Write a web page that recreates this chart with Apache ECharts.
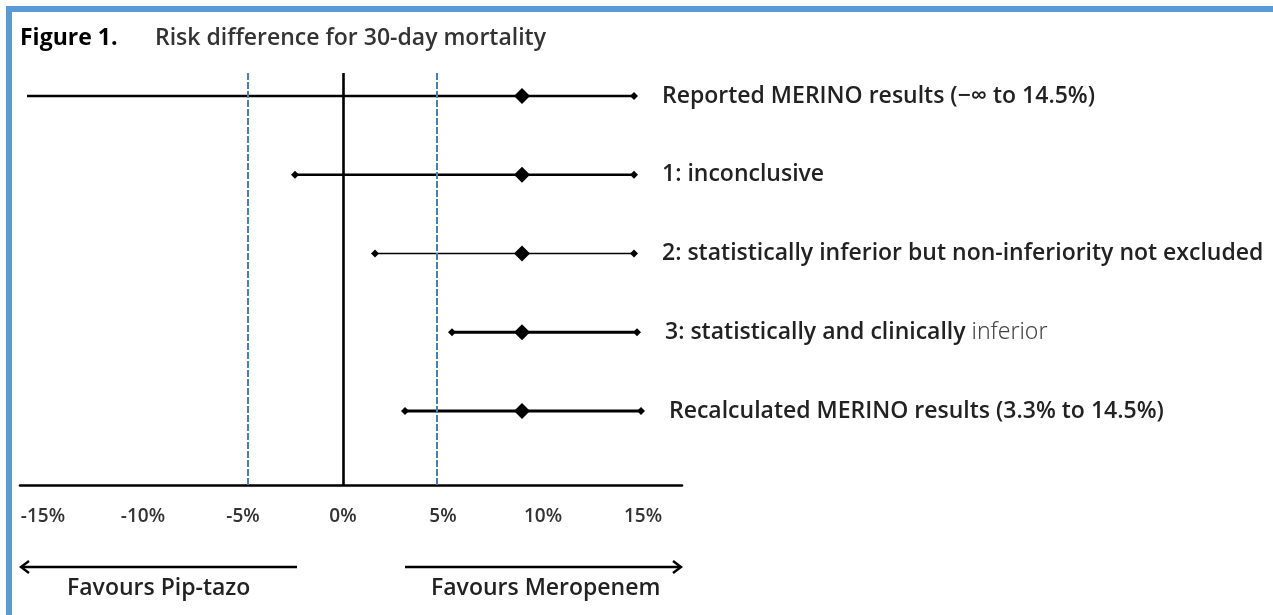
<!DOCTYPE html>
<html>
<head>
<meta charset="utf-8">
<script src="https://cdn.jsdelivr.net/npm/echarts@6/dist/echarts.min.js"></script>
<style>
html,body{margin:0;padding:0;background:#fff;}
#chart{width:1273px;height:615px;}
</style>
</head>
<body>
<div id="chart"></div>
<script>
// ---- data ----
const rowLabels = [
  'Reported MERINO results (\u2212\u221e to 14.5%)',
  '1: inconclusive',
  '2: statistically inferior but non-inferiority not excluded',
  '3: statistically and clinically inferior',
  'Recalculated MERINO results (3.3% to 14.5%)'
];
const lowerCI = [-15.8, -2.4, 1.6, 5.45, 3.1];
const pointEst = [8.95, 8.95, 8.95, 8.95, 8.95];
const upperCI = [14.55, 14.55, 14.55, 14.7, 14.9];
const tickValues = [-15, -10, -5, 0, 5, 10, 15];
const tickLabels = ['-15%', '-10%', '-5%', '0%', '5%', '10%', '15%'];
const marginLines = [-4.75, 4.7];
const titleMain = 'Figure 1.';
const titleSub = 'Risk difference for 30-day mortality';
const favourLeft = 'Favours Pip-tazo';
const favourRight = 'Favours Meropenem';

// ---- styling ----
const FONT = '"Open Sans", Lato, sans-serif';
const lineWidths = [2.6, 2.6, 1.3, 3, 3];
const TXT = '#222';
const FS = 23;

const chart = echarts.init(document.getElementById('chart'), null, {renderer: 'canvas'});

const series = [];
rowLabels.forEach((lab, i) => {
  let fmt = lab;
  let rich = {};
  if (i === 3) {
    fmt = '{a|3: statistically and clinically} {b|inferior}';
    rich = {
      a: {fontFamily: FONT, fontSize: FS, fontWeight: 600, color: TXT},
      b: {fontFamily: '"Noto Sans", sans-serif', fontSize: 23, fontWeight: 300, color: '#444'}
    };
  }
  series.push({
    type: 'line',
    z: 3,
    silent: true,
    animation: false,
    symbol: 'diamond',
    symbolSize: 8,
    itemStyle: {color: '#000', opacity: 1},
    lineStyle: {color: '#000', width: lineWidths[i]},
    data: [
      {value: [lowerCI[i], i], symbol: i === 0 ? 'none' : 'diamond'},
      {value: [upperCI[i], i], label: {
        show: true, position: 'right', distance: 24,
        formatter: fmt, rich: rich,
        fontFamily: FONT, fontSize: FS, fontWeight: 600, color: TXT
      }}
    ]
  });
});

series.push({
  type: 'scatter',
  z: 4,
  silent: true,
  animation: false,
  symbol: 'diamond',
  symbolSize: 16,
  itemStyle: {color: '#000', opacity: 1},
  data: pointEst.map((v, i) => [v, i]),
  markLine: {
    silent: true,
    symbol: 'none',
    label: {show: false},
    animation: false,
    data: [
      {xAxis: 0, lineStyle: {color: '#000', width: 2.6, type: 'solid', opacity: 1}},
      ...marginLines.map(v => ({xAxis: v, lineStyle: {color: '#4a7ebb', width: 2, type: [7, 2], opacity: 1}}))
    ]
  }
});

const option = {
  backgroundColor: '#fff',
  animation: false,
  grid: {left: 20, right: 591, top: 73, bottom: 615 - 485, containLabel: false},
  xAxis: {
    type: 'value',
    min: -16.15,
    max: 16.95,
    axisLine: {show: true, onZero: false, lineStyle: {color: '#000', width: 2.6}},
    axisTick: {show: false},
    splitLine: {show: false},
    axisLabel: {
      customValues: tickValues,
      formatter: v => tickLabels[tickValues.indexOf(v)] || '',
      margin: 22,
      fontFamily: FONT,
      fontSize: 19,
      fontWeight: 600,
      color: '#333'
    }
  },
  yAxis: {
    type: 'value',
    inverse: true,
    min: -0.292,
    max: 4.94,
    show: false,
    splitLine: {show: false}
  },
  series: series,
  graphic: [
    {type: 'rect', shape: {x: 9, y: 9, width: 1400, height: 800}, style: {fill: 'none', stroke: '#5b9bd5', lineWidth: 6}, silent: true},
    {type: 'text', left: 20, top: 27, style: {text: titleMain, fontFamily: FONT, fontWeight: 'bold', fontSize: FS, fill: '#000'}},
    {type: 'text', left: 155, top: 27, style: {text: titleSub, fontFamily: FONT, fontWeight: 600, fontSize: FS, fill: '#333'}},
    // left arrow
    {type: 'polyline', shape: {points: [[22, 567], [297, 567]]}, style: {stroke: '#000', lineWidth: 2.6, fill: 'none'}},
    {type: 'polyline', shape: {points: [[29, 561], [21, 567], [29, 573]]}, style: {stroke: '#000', lineWidth: 2.4, fill: 'none'}},
    // right arrow
    {type: 'polyline', shape: {points: [[405, 567], [680, 567]]}, style: {stroke: '#000', lineWidth: 2.6, fill: 'none'}},
    {type: 'polyline', shape: {points: [[673, 561], [681, 567], [673, 573]]}, style: {stroke: '#000', lineWidth: 2.4, fill: 'none'}},
    {type: 'text', left: 67, top: 577, style: {text: favourLeft, fontFamily: FONT, fontWeight: 600, fontSize: FS, fill: TXT}},
    {type: 'text', left: 431, top: 577, style: {text: favourRight, fontFamily: FONT, fontWeight: 600, fontSize: FS, fill: TXT}}
  ]
};
chart.setOption(option);
</script>
</body>
</html>
